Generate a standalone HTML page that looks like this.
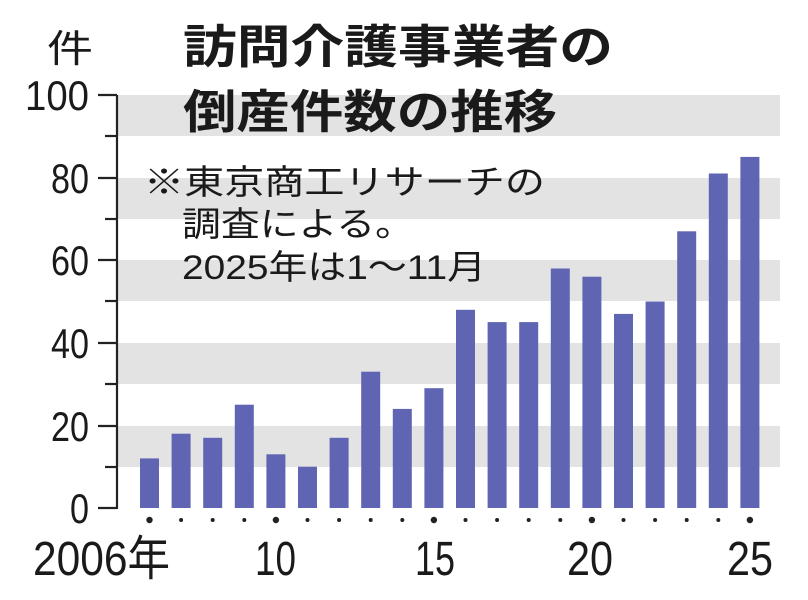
<!DOCTYPE html>
<html><head><meta charset="utf-8"><style>
html,body{margin:0;padding:0;background:#fff;}
svg{display:block;}
text{font-family:"Liberation Sans","Noto Sans CJK JP",sans-serif;fill:#1a1a1a;}
</style></head><body>
<svg width="808" height="600" viewBox="0 0 808 600" xmlns="http://www.w3.org/2000/svg">
<g fill="#e3e3e3">
<rect x="118" y="95" width="662" height="41"/>
<rect x="118" y="178" width="662" height="41"/>
<rect x="118" y="260" width="662" height="41"/>
<rect x="118" y="343" width="662" height="41"/>
<rect x="118" y="426" width="662" height="41"/>
</g>
<g stroke="#222" stroke-width="2.2" fill="none">
<line x1="117" y1="95" x2="117" y2="509"/>
<line x1="98" y1="95" x2="117" y2="95"/>
<line x1="98" y1="178" x2="117" y2="178"/>
<line x1="98" y1="260" x2="117" y2="260"/>
<line x1="98" y1="343" x2="117" y2="343"/>
<line x1="98" y1="426" x2="117" y2="426"/>
<line x1="98" y1="508" x2="117" y2="508"/>
<line x1="105" y1="136" x2="117" y2="136"/>
<line x1="105" y1="219" x2="117" y2="219"/>
<line x1="105" y1="301" x2="117" y2="301"/>
<line x1="105" y1="384" x2="117" y2="384"/>
<line x1="105" y1="467" x2="117" y2="467"/>
</g>
<g fill="#5f65b3">
<rect x="140.0" y="458.4" width="19" height="49.6"/>
<rect x="171.6" y="433.7" width="19" height="74.3"/>
<rect x="203.2" y="437.8" width="19" height="70.2"/>
<rect x="234.8" y="404.7" width="19" height="103.3"/>
<rect x="266.4" y="454.3" width="19" height="53.7"/>
<rect x="298.0" y="466.7" width="19" height="41.3"/>
<rect x="329.6" y="437.8" width="19" height="70.2"/>
<rect x="361.2" y="371.7" width="19" height="136.3"/>
<rect x="392.8" y="408.9" width="19" height="99.1"/>
<rect x="424.4" y="388.2" width="19" height="119.8"/>
<rect x="456.0" y="309.8" width="19" height="198.2"/>
<rect x="487.6" y="322.1" width="19" height="185.9"/>
<rect x="519.2" y="322.1" width="19" height="185.9"/>
<rect x="550.8" y="268.5" width="19" height="239.5"/>
<rect x="582.4" y="276.7" width="19" height="231.3"/>
<rect x="614.0" y="313.9" width="19" height="194.1"/>
<rect x="645.6" y="301.5" width="19" height="206.5"/>
<rect x="677.2" y="231.3" width="19" height="276.7"/>
<rect x="708.8" y="173.5" width="19" height="334.5"/>
<rect x="740.4" y="156.9" width="19" height="351.1"/>
</g>
<g fill="#222">
<circle cx="149.5" cy="520" r="3.2"/>
<circle cx="181.1" cy="520" r="2"/>
<circle cx="212.7" cy="520" r="2"/>
<circle cx="244.3" cy="520" r="2"/>
<circle cx="275.9" cy="520" r="3.2"/>
<circle cx="307.5" cy="520" r="2"/>
<circle cx="339.1" cy="520" r="2"/>
<circle cx="370.7" cy="520" r="2"/>
<circle cx="402.3" cy="520" r="2"/>
<circle cx="433.9" cy="520" r="3.2"/>
<circle cx="465.5" cy="520" r="2"/>
<circle cx="497.1" cy="520" r="2"/>
<circle cx="528.7" cy="520" r="2"/>
<circle cx="560.3" cy="520" r="2"/>
<circle cx="591.9" cy="520" r="3.2"/>
<circle cx="623.5" cy="520" r="2"/>
<circle cx="655.1" cy="520" r="2"/>
<circle cx="686.7" cy="520" r="2"/>
<circle cx="718.3" cy="520" r="2"/>
<circle cx="749.9" cy="520" r="3.2"/>
</g>
<g font-size="42" text-anchor="end">
<text x="89" y="110" textLength="64" lengthAdjust="spacingAndGlyphs">100</text>
<text x="89" y="193" textLength="38" lengthAdjust="spacingAndGlyphs">80</text>
<text x="89" y="275" textLength="38" lengthAdjust="spacingAndGlyphs">60</text>
<text x="89" y="358" textLength="38" lengthAdjust="spacingAndGlyphs">40</text>
<text x="89" y="441" textLength="38" lengthAdjust="spacingAndGlyphs">20</text>
<text x="89" y="523" textLength="19" lengthAdjust="spacingAndGlyphs">0</text>
</g>
<text x="47" y="62" font-size="38" textLength="46" lengthAdjust="spacingAndGlyphs">件</text>
<g font-size="46" font-weight="bold">
<text x="183" y="63" textLength="430" lengthAdjust="spacingAndGlyphs">訪問介護事業者の</text>
<text x="183" y="128" textLength="374" lengthAdjust="spacingAndGlyphs">倒産件数の推移</text>
</g>
<g font-size="34">
<text x="144" y="194" textLength="401" lengthAdjust="spacingAndGlyphs">※東京商工リサーチの</text>
<text x="182" y="236" textLength="232" lengthAdjust="spacingAndGlyphs">調査による。</text>
<text x="182" y="279" textLength="304" lengthAdjust="spacingAndGlyphs">2025年は1～11月</text>
</g>
<g font-size="48">
<text x="33" y="575" textLength="137" lengthAdjust="spacingAndGlyphs">2006年</text>
<text x="255" y="575" textLength="41" lengthAdjust="spacingAndGlyphs">10</text>
<text x="415" y="575" textLength="40" lengthAdjust="spacingAndGlyphs">15</text>
<text x="567" y="575" textLength="46" lengthAdjust="spacingAndGlyphs">20</text>
<text x="727" y="575" textLength="46" lengthAdjust="spacingAndGlyphs">25</text>
</g>
</svg>
</body></html>
